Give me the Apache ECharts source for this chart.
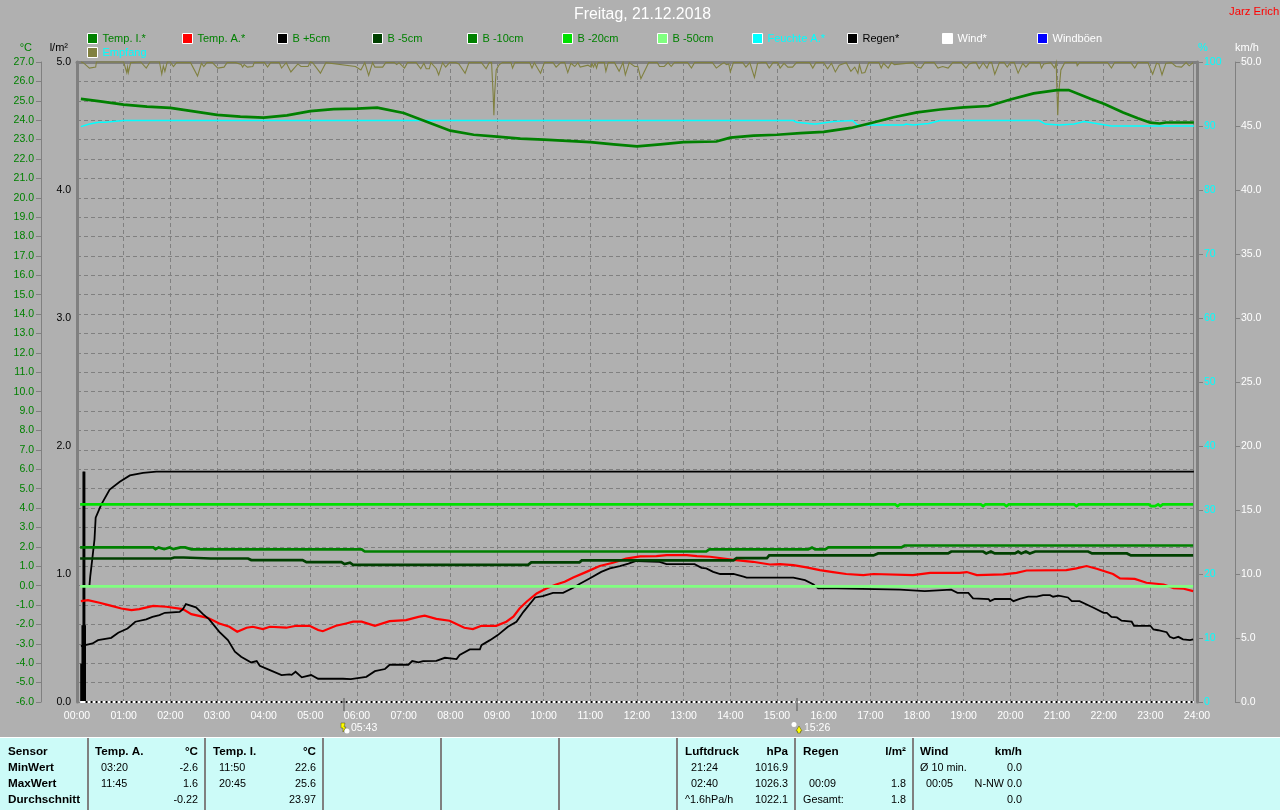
<!DOCTYPE html>
<html><head><meta charset="utf-8">
<style>html,body{margin:0;padding:0;background:#b0b0b0}#c{width:1280px;height:810px}</style>
<script src="https://cdn.jsdelivr.net/npm/echarts@6/dist/echarts.min.js"></script>
</head><body><div id="c"></div>
<script>
// Each series: [minutes since midnight, value]
const tempIndoor=[[5,25.1],[30,24.97],[60,24.8],[90,24.7],[120,24.63],[150,24.45],[180,24.27],[210,24.18],[240,24.13],[270,24.25],[300,24.47],[330,24.57],[360,24.6],[386,24.65],[420,24.37],[453,23.87],[480,23.46],[510,23.25],[540,23.15],[570,23.05],[600,23.0],[660,22.87],[690,22.75],[720,22.65],[750,22.75],[780,22.87],[822,22.9],[840,23.1],[870,23.2],[900,23.25],[930,23.33],[960,23.4],[995,23.6],[1020,23.84],[1050,24.15],[1080,24.4],[1110,24.55],[1140,24.66],[1172,24.73],[1200,25.07],[1230,25.38],[1260,25.55],[1275,25.55],[1303,25.1],[1321,24.83],[1345,24.4],[1364,24.1],[1380,23.87],[1392,23.83],[1400,23.88],[1436,23.88]];
const tempOutdoor=[[5,-0.8],[14,-0.75],[29,-0.88],[42,-1.02],[57,-1.18],[70,-1.26],[80,-1.21],[98,-1.04],[115,-1.09],[136,-1.21],[147,-1.47],[168,-1.66],[183,-1.95],[196,-2.12],[206,-2.38],[218,-2.17],[226,-2.12],[239,-2.24],[248,-2.12],[269,-2.17],[282,-2.07],[299,-2.07],[310,-2.29],[316,-2.35],[333,-2.07],[346,-1.95],[355,-1.86],[366,-1.86],[383,-2.07],[402,-1.83],[423,-1.78],[439,-1.61],[447,-1.55],[462,-1.71],[479,-1.81],[498,-2.17],[509,-2.24],[520,-2.07],[539,-2.07],[552,-1.86],[561,-1.6],[569,-1.18],[578,-0.83],[591,-0.4],[604,-0.14],[616,0.06],[627,0.2],[638,0.42],[655,0.71],[672,1.01],[689,1.18],[706,1.39],[724,1.51],[745,1.52],[758,1.57],[784,1.57],[797,1.52],[814,1.49],[844,1.33],[869,1.23],[891,1.09],[904,1.11],[921,1.06],[938,0.94],[955,0.8],[972,0.7],[989,0.6],[1011,0.54],[1024,0.6],[1075,0.54],[1097,0.66],[1135,0.66],[1144,0.7],[1157,0.54],[1191,0.58],[1208,0.66],[1221,0.78],[1272,0.8],[1285,0.89],[1298,1.01],[1311,0.87],[1332,0.6],[1341,0.37],[1360,0.35],[1375,0.15],[1397,0.06],[1410,-0.13],[1423,-0.16],[1435,-0.28]];
const soilPlus5=[[5,-3.12],[20,-2.98],[27,-2.81],[44,-2.69],[53,-2.43],[65,-2.21],[75,-1.86],[89,-1.74],[97,-1.61],[106,-1.52],[113,-1.4],[132,-1.35],[136,-1.23],[140,-0.95],[153,-1.12],[162,-1.47],[170,-1.74],[183,-2.38],[194,-2.81],[203,-3.41],[211,-3.67],[224,-3.96],[231,-3.89],[235,-4.13],[248,-4.36],[263,-4.61],[273,-4.58],[276,-4.6],[281,-4.44],[289,-4.73],[301,-4.61],[310,-4.8],[342,-4.8],[352,-4.82],[372,-4.7],[383,-4.41],[396,-4.3],[402,-4.08],[426,-4.08],[431,-3.89],[439,-3.96],[445,-3.89],[462,-3.88],[473,-3.72],[488,-3.79],[492,-3.58],[505,-3.29],[518,-3.29],[520,-3.07],[531,-2.81],[541,-2.55],[554,-2.12],[565,-1.86],[574,-1.35],[589,-0.61],[599,-0.54],[612,-0.37],[625,-0.37],[638,-0.11],[646,0.08],[659,0.37],[674,0.71],[685,0.89],[698,1.01],[709,1.14],[719,1.27],[749,1.23],[758,1.11],[794,1.11],[803,0.92],[809,0.89],[818,0.71],[827,0.6],[844,0.6],[857,0.46],[861,0.41],[921,0.41],[923,0.32],[936,0.28],[947,0.06],[953,-0.14],[977,-0.14],[979,-0.21],[1058,-0.21],[1060,-0.28],[1090,-0.28],[1092,-0.21],[1124,-0.21],[1132,-0.37],[1146,-0.37],[1152,-0.66],[1172,-0.69],[1174,-0.8],[1180,-0.69],[1200,-0.69],[1204,-0.8],[1212,-0.68],[1223,-0.57],[1234,-0.57],[1242,-0.49],[1251,-0.49],[1255,-0.57],[1262,-0.52],[1274,-0.61],[1279,-0.8],[1289,-0.8],[1307,-1.14],[1320,-1.4],[1324,-1.4],[1330,-1.61],[1337,-1.64],[1343,-1.81],[1356,-1.86],[1359,-2.07],[1380,-2.07],[1384,-2.26],[1390,-2.3],[1401,-2.4],[1405,-2.64],[1410,-2.72],[1416,-2.64],[1422,-2.77],[1431,-2.81],[1435,-2.77]];
const soilMinus5=[[4,1.4],[121,1.4],[125,1.45],[137,1.45],[172,1.4],[220,1.4],[224,1.32],[290,1.32],[295,1.21],[340,1.21],[344,1.11],[351,1.18],[355,1.07],[580,1.07],[584,1.2],[646,1.2],[649,1.3],[844,1.3],[848,1.42],[887,1.42],[890,1.56],[1024,1.56],[1030,1.66],[1120,1.66],[1124,1.76],[1165,1.76],[1169,1.66],[1175,1.76],[1180,1.66],[1206,1.66],[1210,1.76],[1214,1.66],[1220,1.76],[1225,1.66],[1232,1.76],[1238,1.76],[1240,1.66],[1246,1.76],[1300,1.76],[1305,1.66],[1350,1.66],[1355,1.56],[1435,1.56]];
const soilMinus10=[[4,1.97],[98,1.97],[101,1.88],[105,1.97],[112,1.88],[119,1.97],[124,1.88],[133,1.97],[139,1.97],[147,1.87],[366,1.87],[370,1.76],[809,1.76],[813,1.87],[940,1.87],[945,1.97],[949,1.87],[962,1.87],[966,1.97],[1060,1.97],[1064,2.07],[1435,2.07]];
const soilMinus20=[[4,4.19],[1052,4.19],[1055,4.1],[1058,4.19],[1162,4.19],[1165,4.1],[1168,4.19],[1192,4.19],[1195,4.1],[1198,4.19],[1282,4.19],[1285,4.1],[1288,4.19],[1378,4.19],[1381,4.1],[1386,4.1],[1390,4.19],[1393,4.1],[1396,4.19],[1435,4.19]];
const soilMinus50=[[4,-0.04],[1435,-0.04]];
const humidity=[[5,89.9],[16,90.3],[28,90.6],[36,90.6],[60,90.86],[921,90.86],[925,90.6],[947,90.3],[950,90.3],[973,90.7],[997,90.86],[1003,90.2],[1010,90.15],[1063,90.15],[1066,90.3],[1075,90.15],[1095,90.4],[1110,90.86],[1237,90.86],[1245,90.3],[1263,90.15],[1282,90.3],[1295,90.7],[1330,90.0],[1436,90.0]];
const reception=[[5,100],[8,99.9],[16,99.05],[24,99.2],[25,100],[60,100],[64,98.35],[65,99.2],[66,98.35],[69,99.9],[82,100],[89,99.05],[94,100],[106,100],[109,98.1],[111,99.4],[113,98.55],[116,100],[120,100],[124,99.3],[128,99.9],[146,99.9],[155,97.8],[160,99.8],[163,99.3],[167,99.9],[174,99.9],[181,99.05],[189,99.2],[193,99.9],[204,99.9],[211,99.6],[213,99.2],[215,99.6],[219,99.2],[226,99.3],[228,99.9],[241,99.9],[245,99.2],[249,99.9],[260,99.9],[263,99.05],[269,99.9],[275,98.45],[284,99.7],[288,99.3],[297,99.3],[300,100],[303,99.9],[313,98.25],[320,99.9],[358,99.3],[365,98.75],[370,99.9],[375,97.9],[380,99.9],[383,99.2],[393,99.2],[397,99.9],[408,99.9],[411,99.6],[414,99.9],[421,99.05],[425,99.9],[436,99.9],[442,98.95],[446,99.8],[449,98.95],[453,98.95],[455,99.9],[462,98.95],[465,98],[470,99.9],[474,99.2],[479,99.9],[487,99.9],[491,99.7],[499,98.25],[504,99.9],[520,99.9],[526,98.95],[530,99.9],[533,99.9],[535,95.1],[536,91.7],[537,95.1],[539,98.75],[541,99.2],[543,99.6],[547,99.9],[558,99.9],[560,99.05],[563,99.9],[582,99.9],[585,99.05],[588,99.9],[596,98.25],[601,99.9],[612,99.9],[616,99.2],[622,99.9],[627,99.9],[631,98.35],[635,99.8],[640,99.3],[644,99.9],[647,99.2],[657,99.5],[661,99.2],[662,99.8],[664,99.2],[666,99.8],[668,99.05],[670,99.9],[678,99.9],[680,98.55],[683,99.9],[691,99.9],[697,98.55],[702,99.9],[705,98],[710,99.9],[717,99.3],[721,99.3],[725,97.4],[735,99.9],[746,99.9],[749,99.3],[755,99.3],[760,99.9],[764,99.3],[768,99.9],[785,99.9],[790,99.05],[794,99.9],[817,99.9],[822,99.05],[828,99.6],[832,99.9],[835,99.6],[838,99.7],[840,98.45],[844,99.9],[856,99.9],[860,99.2],[865,99.9],[867,99.9],[871,97.6],[875,99.8],[877,99.6],[880,99.9],[886,99.9],[890,99.05],[895,99.9],[901,99.9],[904,99.05],[909,99.8],[914,99.2],[920,99.2],[925,99.9],[942,99.9],[946,99.05],[950,99.9],[960,99.9],[965,98.95],[970,99.8],[975,98.45],[980,99.5],[989,99.9],[995,98.55],[1000,99.2],[1004,98.25],[1006,99.6],[1009,98.25],[1013,98.35],[1018,99.9],[1031,99.9],[1034,99.05],[1037,99.8],[1043,99.05],[1047,99.9],[1051,99.6],[1053,99.9],[1075,99.9],[1080,99.2],[1085,99.05],[1090,99.9],[1102,99.9],[1107,99.05],[1113,99.3],[1120,99.05],[1126,99.9],[1137,99.9],[1143,99.05],[1147,99.7],[1152,99.9],[1156,99.9],[1160,98.95],[1165,99.9],[1170,99.05],[1173,99.9],[1176,99.9],[1180,98.1],[1186,99.9],[1192,99.9],[1196,99.2],[1200,99.9],[1205,99.9],[1210,98.25],[1216,99.8],[1220,99.2],[1225,99.9],[1238,99.9],[1240,99.05],[1243,99.7],[1252,99.9],[1257,99.05],[1259,99.9],[1260,95.1],[1261,91.7],[1262,95.1],[1263,96.15],[1265,98.75],[1270,99.9],[1285,99.9],[1286,99.4],[1289,99.9],[1325,99.9],[1330,99.05],[1334,99.9],[1355,99.9],[1360,99.05],[1364,99.9],[1377,99.9],[1380,98.95],[1383,98.1],[1388,99.8],[1391,99.7],[1395,98],[1400,99.8],[1407,99.9],[1413,99.3],[1420,99.2],[1426,99.9],[1430,99.4],[1435,99.9]];
const rainTotal=[[16,0.91],[17,0.98],[20,1.135],[22.5,1.27],[24,1.44],[31,1.54],[42,1.66],[55,1.72],[68,1.77],[85,1.79],[102,1.8],[1436,1.8]];
const rainBars=[[5.4,0.3],[7,0.6],[8.3,1.8],[9.5,1.8],[10.3,0.6]];
const windMean=[[4,0],[1436,0]];
const windGust=[[4,0],[1436,0]];
const rainRateBase=[[11,0],[1436,0]];

const hourLabels=['00:00','01:00','02:00','03:00','04:00','05:00','06:00','07:00','08:00','09:00','10:00','11:00','12:00','13:00','14:00','15:00','16:00','17:00','18:00','19:00','20:00','21:00','22:00','23:00','24:00'];
const legendNames=['Temp. I.*','Temp. A.*','B +5cm','B -5cm','B -10cm','B -20cm','B -50cm','Feuchte A.*','Regen*','Wind*','Windböen','Empfang'];
const legendSwatches=['#008000','#ff0000','#000000','#004000','#008000','#00e000','#80ff80','#00ffff','#000000','#ffffff','#0000ff','#808040'];
const legendTextColors=['#008000','#008000','#008000','#008000','#008000','#008000','#008000','#00ffff','#000000','#ffffff','#ffffff','#00ffff'];

const tableLabels=['Sensor','MinWert','MaxWert','Durchschnitt'];
const tableTempA=[['Temp. A.','°C'],['  03:20','-2.6'],['  11:45','1.6'],['','-0.22']];
const tableTempI=[['Temp. I.','°C'],['  11:50','22.6'],['  20:45','25.6'],['','23.97']];
const tablePressure=[['Luftdruck','hPa'],['  21:24','1016.9'],['  02:40','1026.3'],['^1.6hPa/h','1022.1']];
const tableRain=[['Regen','l/m²'],['',''],['  00:09','1.8'],['Gesamt:','1.8']];
const tableWind=[['Wind','km/h'],['Ø 10 min.','0.0'],['  00:05','N-NW 0.0'],['','0.0']];
const sunTimes=['05:43','15:26'];

const FONT='"Liberation Sans", Arial, sans-serif';
const GRID='#808080';
function lineSeries(name,data,color,width,yAxisIndex,extra){
  return Object.assign({name,type:'line',data,yAxisIndex,xAxisIndex:0,showSymbol:false,symbol:'none',
    lineStyle:{color,width,cap:'butt',join:'miter'},itemStyle:{color},silent:true,animation:false},extra||{});
}
const series=[
  lineSeries('Windböen',windGust,'#0000ff',0.5,3,{clip:false}),
  lineSeries('Wind*',windMean,'#ffffff',2,3,{clip:false}),
  {name:'Regenrate',type:'line',data:rainRateBase,yAxisIndex:1,showSymbol:false,symbol:'none',animation:false,clip:false,
    lineStyle:{color:'#000000',width:2,type:[2,3]},z:3},
  lineSeries('Empfang',reception,'#808040',1.1,2,{clip:false}),
  {name:'Regenmenge',type:'bar',data:rainBars,yAxisIndex:1,barWidth:2,itemStyle:{color:'#000000'},animation:false,silent:true},
  lineSeries('Regen*',rainTotal,'#000000',1.8,1),
  lineSeries('Temp. A.*',tempOutdoor,'#ff0000',2.2,0),
  lineSeries('B +5cm',soilPlus5,'#000000',1.8,0),
  lineSeries('B -5cm',soilMinus5,'#004000',2.7,0),
  lineSeries('B -10cm',soilMinus10,'#008000',2.7,0),
  lineSeries('B -20cm',soilMinus20,'#00e000',2.7,0),
  lineSeries('B -50cm',soilMinus50,'#80ff80',2.7,0),
  lineSeries('Feuchte A.*',humidity,'#00ffff',1.5,2),
  lineSeries('Temp. I.*',tempIndoor,'#008000',2.7,0)
];
const legendX=i=>i===11?87:87+i*95;
const legends=legendNames.map((n,i)=>({
  show:true,left:legendX(i),top:i===11?47:33,padding:0,selectedMode:false,itemWidth:10,itemHeight:10,itemGap:0,
  orient:'horizontal',
  textStyle:{fontFamily:FONT,fontSize:11,color:legendTextColors[i]},
  data:[{name:n,icon:'rect',itemStyle:{color:legendSwatches[i],borderColor:'#ffffff',borderWidth:1},lineStyle:{width:0}}]
}));
function yAxis(pos,offset,min,max,interval,color,fmt,name,nameColor,nameStyle,tickShow,tickLen,lineW,margin){
  return {type:'value',position:pos,offset,min,max,interval,name,nameLocation:'end',nameGap:9,
    nameTextStyle:Object.assign({color:nameColor,fontFamily:FONT,fontSize:11},nameStyle),
    axisLine:{show:true,onZero:false,lineStyle:{color:GRID,width:lineW}},
    axisTick:{show:tickShow,length:tickLen,lineStyle:{color:GRID,width:1}},
    axisLabel:{color,fontFamily:FONT,fontSize:10.5,margin,formatter:fmt,showMinLabel:true,showMaxLabel:true},
    splitLine:{show:false}};
}
const yAxes=[
  yAxis('left',36,-6,27,1,'#008000',v=>v.toFixed(1),'°C','#008000',{align:'right',padding:[0,9,0,0]},true,5,1,7),
  yAxis('left',0,0,5,1,'#000000',v=>v.toFixed(1),'l/m²','#000000',{align:'right',padding:[0,9,0,0]},false,0,3,6),
  yAxis('right',0,0,100,10,'#00ffff',v=>String(v),'%','#00ffff',{align:'left',padding:[0,0,0,1]},true,6,3,7),
  yAxis('right',38,0,50,5,'#ffffff',v=>v.toFixed(1),'km/h','#ffffff',{align:'left'},true,5,1,6)
];
yAxes[0].splitLine={show:true,lineStyle:{color:GRID,width:1,type:[4,3]}};

// Bottom table and annotations
const g=[];
const PANEL='#ccfbf8';
g.push({type:'rect',shape:{x:0,y:737,width:1280,height:73},style:{fill:PANEL},z:10});
g.push({type:'line',shape:{x1:0,y1:737.5,x2:1280,y2:737.5},style:{stroke:'#ffffff',lineWidth:1},z:11});
[88,205,323,441,559,677,795,913].forEach(x=>g.push({type:'line',shape:{x1:x,y1:738,x2:x,y2:810},style:{stroke:'#808080',lineWidth:2},z:11}));
const rowsY=[752,768,784,800];
function txt(s,x,y,align,bold,color,size){
  g.push({type:'text',x,y,z:12,style:{text:s,align:align||'left',verticalAlign:'middle',fill:color||'#000000',
    font:(bold?'bold ':'')+(size||(bold?11.7:10.8))+'px '+FONT}});
}
tableLabels.forEach((s,i)=>txt(s,8,rowsY[i],'left',true));
[[tableTempA,95,198],[tableTempI,213,316],[tablePressure,685,788],[tableRain,803,906],[tableWind,920,1022]].forEach(([t,xl,xr])=>{
  t.forEach((r,i)=>{ if(r[0])txt(r[0],xl,rowsY[i],'left',i===0); if(r[1])txt(r[1],xr,rowsY[i],'right',i===0); });
});
// title & signature
txt('Freitag, 21.12.2018',574,15,'left',false,'#ffffff',15.8);
txt('Jarz Erich',1229,12,'left',false,'#ff0000',11.3);
// thin end-of-data line and sun markers
g.push({type:'line',shape:{x1:1193.5,y1:62,x2:1193.5,y2:702},style:{stroke:'#808080',lineWidth:1},z:1});
[344,797].forEach(x=>g.push({type:'rect',shape:{x:x-1,y:698,width:2,height:13},style:{fill:'#808080'},z:9}));
txt(sunTimes[0],351,728,'left',false,'#ffffff',10.5);
txt(sunTimes[1],804,728,'left',false,'#ffffff',10.5);
g.push({type:'polygon',shape:{points:[[341,723],[345,723],[344,727],[346,727],[343,732],[343,728],[341,728]]},style:{fill:'#ffff00',stroke:'#505000',lineWidth:0.5},z:9});
g.push({type:'circle',shape:{cx:347,cy:731,r:2.5},style:{fill:'#ffffff'},z:9});
g.push({type:'circle',shape:{cx:794,cy:724.5,r:2.5},style:{fill:'#ffffff'},z:9});
g.push({type:'polygon',shape:{points:[[799,726],[802,731],[800.5,731],[800.5,733],[797.5,733],[797.5,731],[796,731]]},style:{fill:'#ffff00',stroke:'#505000',lineWidth:0.5},z:9});

const chart=echarts.init(document.getElementById('c'),null,{width:1280,height:810});
chart.setOption({
  animation:false,backgroundColor:'#b0b0b0',
  grid:{left:77,right:83,top:62,bottom:108,containLabel:false},
  legend:legends,
  tooltip:{show:false},
  xAxis:[
    {type:'value',position:'bottom',min:0,max:1440,interval:60,
     axisLine:{show:false},
     axisTick:{show:true,length:5,lineStyle:{color:GRID,type:[4,3]}},
     axisLabel:{color:'#ffffff',fontFamily:FONT,fontSize:10.5,margin:9,showMinLabel:true,showMaxLabel:true,formatter:v=>hourLabels[v/60]},
     splitLine:{show:true,lineStyle:{color:GRID,width:1,type:[4,3]}}},
    {type:'value',position:'top',min:0,max:1440,interval:60,
     axisLine:{show:true,onZero:false,lineStyle:{color:GRID,width:3}},axisTick:{show:false},axisLabel:{show:false},splitLine:{show:false}}
  ],
  yAxis:yAxes,
  series,
  graphic:{elements:g}
});
</script></body></html>
